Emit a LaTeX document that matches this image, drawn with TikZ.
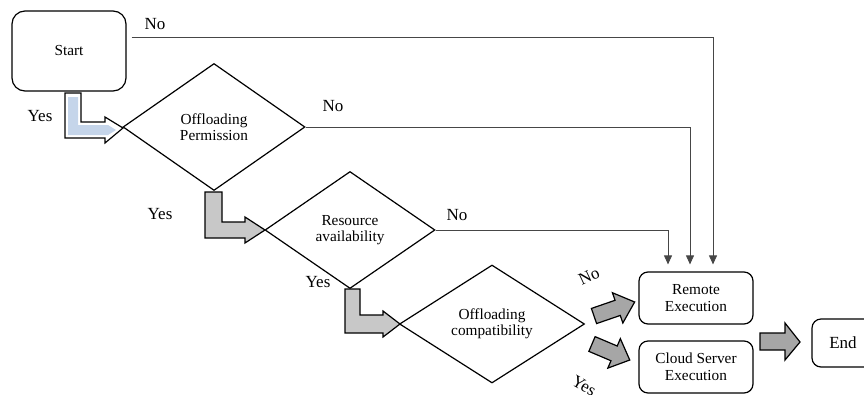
\documentclass[tikz,border=0pt]{standalone}
\usepackage{fontspec}
\setmainfont{Liberation Serif}
\usepackage{tikz}
\usetikzlibrary{shapes.geometric,arrows.meta,calc}

\definecolor{permblue}{RGB}{197,213,234}
\definecolor{lgray}{RGB}{200,200,200}
\definecolor{arrgray}{RGB}{166,166,166}
\definecolor{conngray}{RGB}{70,70,70}

\tikzset{
  decision/.style={diamond, draw, line width=1.2pt, inner sep=0pt, align=center,
    font=\fontsize{15.3}{16}\selectfont},
  procbox/.style={rectangle, rounded corners=9pt, draw, line width=1.2pt, align=center,
    minimum width=114pt, minimum height=52pt, font=\fontsize{15.3}{17}\selectfont},
  noline/.style={draw=conngray, line width=0.8pt, -{Triangle[length=9pt,width=8pt]}},
  lbl/.style={font=\fontsize{17}{19}\selectfont, inner sep=0pt},
  fatarrow/.style={draw, line width=1.2pt, fill=arrgray, line join=miter},
  bentarrow/.style={draw, line width=1.2pt, fill=lgray, line join=miter}
}

\begin{document}
\begin{tikzpicture}[x=1pt,y=-1pt]
\useasboundingbox (0,0) rectangle (864,394);
\node [procbox, minimum width=114pt, minimum height=80pt, rounded corners=13pt] (start) at (69,51) {Start};
\node [decision, minimum width=182pt, minimum height=127pt] (perm) at (214,127) {Offloading\\Permission};
\node [decision, minimum width=170pt, minimum height=117pt] (avail) at (350,230) {Resource\\availability};
\node [decision, minimum width=185pt, minimum height=118pt] (compat) at (492,324) {Offloading\\compatibility};
\node [procbox] (remote) at (696,298) {Remote\\Execution};
\node [procbox] (cloud) at (696,367) {Cloud Server\\Execution};
\node [procbox, minimum width=62pt, minimum height=48pt, font=\fontsize{17}{19}\selectfont] (finish) at (843,343) {End};

\draw [noline] ([xshift=5pt,yshift=14pt]start.east) -| ([xshift=17pt,yshift=7pt]remote.north);
\draw [noline] (perm.east) -| ([xshift=-6pt,yshift=7pt]remote.north);
\draw [noline] (avail.east) -| ([xshift=-28pt,yshift=7pt]remote.north);

\draw [draw, line width=1.2pt, fill=white, line join=miter] (65,93) -- (81,93) -- (81,122) -- (105,122) -- (105,117) -- (123,128) -- (105,143) -- (105,138) -- (65,138) -- cycle;
\fill [permblue] (68,97) -- (78,97) -- (78,125) -- (108,125) -- (116,130) -- (108,135) -- (68,135) -- cycle;
\draw [bentarrow] (205,192) -- (222,192) -- (222,222) -- (245,222) -- (245,217) -- (265,230) -- (245,243) -- (245,238) -- (205,238) -- cycle;
\draw [bentarrow] (345,289) -- (360,289) -- (360,315) -- (383,315) -- (383,311) -- (400,324) -- (383,337) -- (383,333) -- (345,333) -- cycle;

\draw [fatarrow] (760,333) -- (785,333) -- (785,323) -- (800,342) -- (785,360) -- (785,350) -- (760,350) -- cycle;
\begin{scope}[shift={(594,316)}, rotate=19]
\draw [fatarrow] (0,-8) -- (25,-8) -- (25,-16) -- (43,0) -- (25,16) -- (25,8) -- (0,8) -- cycle;
\end{scope}
\begin{scope}[shift={(592,344)}, rotate=-23]
\draw [fatarrow] (0,-8) -- (24,-8) -- (24,-16) -- (41,0) -- (24,16) -- (24,8) -- (0,8) -- cycle;
\end{scope}

\node [lbl] (no1) at (155,24) {No};
\node [lbl] (no2) at (333,106) {No};
\node [lbl] (no3) at (457,215) {No};
\node [lbl, rotate=25] (no4) at (589,276) {No};
\node [lbl] (yes1) at (40,116) {Yes};
\node [lbl] (yes2) at (160,214) {Yes};
\node [lbl] (yes3) at (318,282) {Yes};
\node [lbl, rotate=-30] (yes4) at (584,386) {Yes};
\end{tikzpicture}
\end{document}
